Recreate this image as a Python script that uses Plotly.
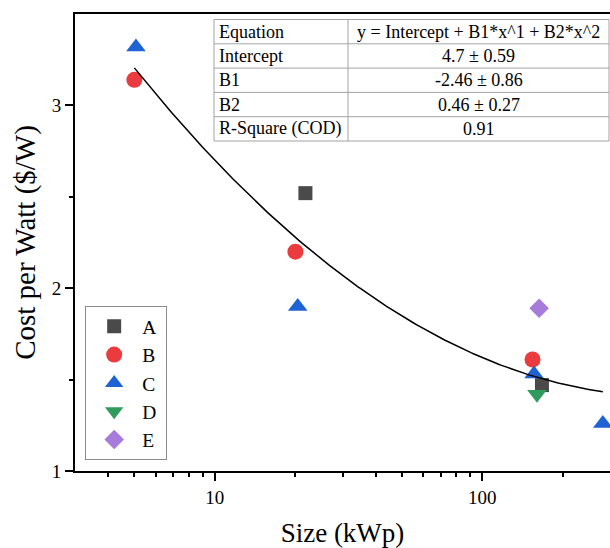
import numpy as np
import plotly.graph_objects as go

# Installation size (kWp) and cost per watt ($/W) by group
a_size = [21.8, 167]
a_cost = [2.52, 1.47]
b_size = [5.0, 20.0, 154]
b_cost = [3.14, 2.20, 1.61]
c_size = [5.07, 20.4, 156, 282]
c_cost = [3.32, 1.90, 1.53, 1.26]
d_size = [160]
d_cost = [1.42]
e_size = [163]
e_cost = [1.89]

# Quadratic fit in log10(size)
intercept = 4.7
b1 = -2.46
b2 = 0.46
fit_min, fit_max = 5.0, 282

table_labels = ["Equation", "Intercept", "B1", "B2", "R-Square (COD)"]
table_values = ["y = Intercept + B1*x^1 + B2*x^2", "4.7 \u00b1 0.59",
                "-2.46 \u00b1 0.86", "0.46 \u00b1 0.27", "0.91"]

x_major = [10, 100]
x_minor = [4, 5, 6, 7, 8, 9, 20, 30, 40, 50, 60, 70, 80, 90, 200]
y_major = [1, 2, 3]
y_minor = [1.5, 2.5]

SERIF = "Liberation Serif"
W, H = 610, 548
ML, MR, MT, MB = 75, 0, 14, 77

fig = go.Figure()

styles = [
    ("A", a_size, a_cost, "square", "#4a4a4a", 14),
    ("B", b_size, b_cost, "circle", "#ec3b3f", 16),
    ("C", c_size, c_cost, "triangle-up", "#1f62d4", 17),
    ("D", d_size, d_cost, "triangle-down", "#2f9b5c", 17),
    ("E", e_size, e_cost, "diamond", "#a67bdc", 15),
]
for name, xs, ys, sym, col, sz in styles:
    fig.add_trace(go.Scatter(
        x=xs, y=ys, mode="markers", name=name + "\u00a0",
        marker=dict(symbol=sym, color=col, size=sz, line=dict(width=0)),
    ))

lx = np.linspace(np.log10(fit_min), np.log10(fit_max), 200)
fig.add_trace(go.Scatter(
    x=10 ** lx, y=intercept + b1 * lx + b2 * lx ** 2,
    mode="lines", line=dict(color="black", width=1.5),
    showlegend=False, hoverinfo="skip",
))

# Fit-parameter table drawn in paper coordinates inside the plot area
pw, ph = W - ML - MR, H - MT - MB
def px_x(v):
    return (v - ML) / pw
def px_y(v):
    return (H - MB - v) / ph

tab_left, tab_mid, tab_right = 214, 348, 609
tab_top, row_h = 19.5, 24.3
n_rows = len(table_labels)
grid = "#a3a3a3"
fig.add_shape(type="rect", xref="paper", yref="paper",
              x0=px_x(tab_left), x1=px_x(tab_right),
              y0=px_y(tab_top + n_rows * row_h), y1=px_y(tab_top),
              line=dict(color=grid, width=1), fillcolor="white", layer="above")
fig.add_shape(type="line", xref="paper", yref="paper",
              x0=px_x(tab_mid), x1=px_x(tab_mid),
              y0=px_y(tab_top + n_rows * row_h), y1=px_y(tab_top),
              line=dict(color=grid, width=1))
for i in range(1, n_rows):
    fig.add_shape(type="line", xref="paper", yref="paper",
                  x0=px_x(tab_left), x1=px_x(tab_right),
                  y0=px_y(tab_top + i * row_h), y1=px_y(tab_top + i * row_h),
                  line=dict(color=grid, width=1))
for i, (lab, val) in enumerate(zip(table_labels, table_values)):
    yc = px_y(tab_top + (i + 0.5) * row_h)
    fig.add_annotation(x=px_x(tab_left + 3), y=yc, xref="paper", yref="paper",
                       xanchor="left", yanchor="middle", showarrow=False, text=lab,
                       font=dict(family=SERIF, size=18, color="black"))
    fig.add_annotation(x=px_x((tab_mid + tab_right) / 2), y=yc, xref="paper", yref="paper",
                       xanchor="center", yanchor="middle", showarrow=False, text=val,
                       font=dict(family=SERIF, size=18, color="black"))

fig.update_layout(
    width=W, height=H,
    margin=dict(l=ML, r=MR, t=MT, b=MB),
    plot_bgcolor="white", paper_bgcolor="white",
    font=dict(family=SERIF, color="black"),
    legend=dict(
        x=0.019, y=0.024, xanchor="left", yanchor="bottom",
        bordercolor="#8a8a8a", borderwidth=1, bgcolor="white",
        font=dict(family=SERIF, size=19.5, color="black"),
        itemsizing="trace", tracegroupgap=0, itemwidth=46,
    ),
    xaxis=dict(
        type="log", range=[np.log10(3), np.log10(300)],
        tickvals=x_major, ticktext=[str(v) for v in x_major],
        ticks="outside", ticklen=8, tickwidth=1.5, tickcolor="black",
        minor=dict(tickvals=x_minor, ticks="outside", ticklen=4, tickwidth=1.5,
                   tickcolor="black", showgrid=False),
        showline=True, linecolor="black", linewidth=2, mirror=True,
        showgrid=False, zeroline=False,
        tickfont=dict(family=SERIF, size=19, color="black"),
        title=dict(text="Size (kWp)", font=dict(family=SERIF, size=27), standoff=20),
    ),
    yaxis=dict(
        range=[1, 3.5],
        tickvals=y_major, ticktext=[str(v) for v in y_major],
        ticks="outside", ticklen=8, tickwidth=1.5, tickcolor="black",
        minor=dict(tickvals=y_minor, ticks="outside", ticklen=4, tickwidth=1.5,
                   tickcolor="black", showgrid=False),
        showline=True, linecolor="black", linewidth=2, mirror=False,
        showgrid=False, zeroline=False,
        tickfont=dict(family=SERIF, size=19, color="black"),
        title=dict(text="Cost per Watt ($/W)", font=dict(family=SERIF, size=29), standoff=8),
    ),
)

fig.write_html("out.html")
